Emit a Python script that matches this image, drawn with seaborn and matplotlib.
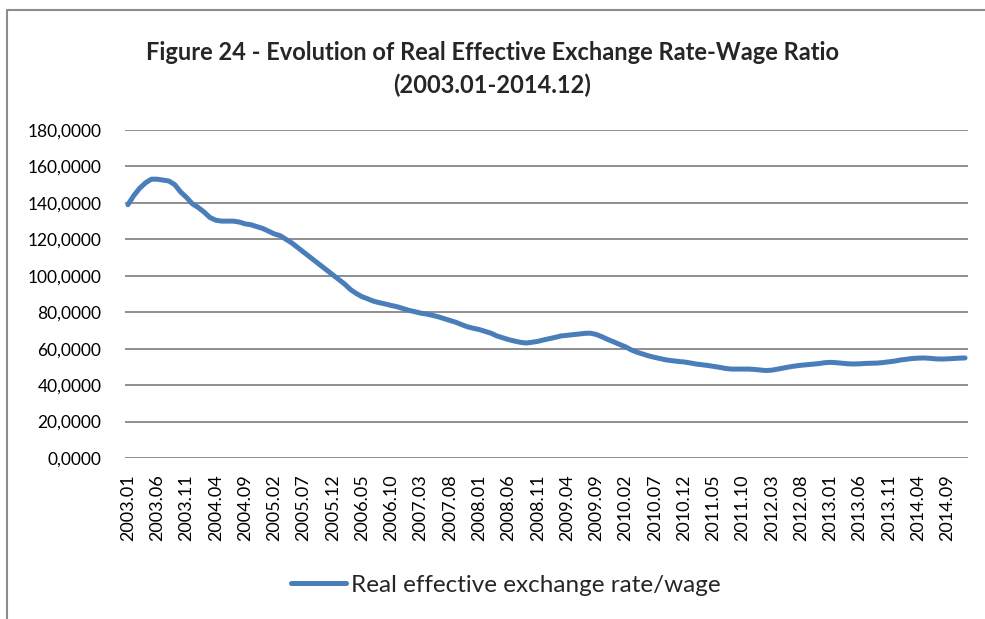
import numpy as np
import pandas as pd
import seaborn as sns
import matplotlib.pyplot as plt
from matplotlib.lines import Line2D
from matplotlib.ticker import FuncFormatter

# Monthly values, 2003.01 .. 2014.12
years = list(range(2003, 2015))
months = [f"{y}.{m:02d}" for y in years for m in range(1, 13)]

reer_wage = [
    139.0, 144.0, 148.0, 151.0, 153.0, 153.0, 152.5, 152.0, 150.0, 146.0, 143.0, 139.5,  # 2003
    137.5, 135.0, 132.0, 130.5, 130.0, 130.0, 130.0, 129.5, 128.5, 128.0, 127.0, 126.0,  # 2004
    124.5, 123.0, 122.0, 120.0, 118.0, 115.5, 113.0, 110.5, 108.0, 105.5, 103.0, 100.5,  # 2005
    98.0, 95.5, 92.5, 90.3, 88.5, 87.3, 86.0, 85.2, 84.5, 83.7, 83.0, 82.0,              # 2006
    81.0, 80.3, 79.5, 79.0, 78.3, 77.5, 76.5, 75.5, 74.5, 73.2, 72.0, 71.2,              # 2007
    70.5, 69.5, 68.5, 67.0, 66.0, 65.0, 64.2, 63.5, 63.1, 63.5, 64.0, 64.8,              # 2008
    65.5, 66.2, 67.0, 67.3, 67.7, 68.0, 68.4, 68.5, 67.8, 66.5, 65.0, 63.7,              # 2009
    62.3, 61.0, 59.3, 58.0, 57.0, 56.0, 55.2, 54.5, 53.8, 53.4, 53.0, 52.7,              # 2010
    52.2, 51.6, 51.2, 50.8, 50.3, 49.8, 49.2, 48.8, 48.8, 48.8, 48.8, 48.6,              # 2011
    48.3, 48.0, 48.2, 48.8, 49.4, 50.0, 50.5, 50.9, 51.2, 51.5, 51.8, 52.3,              # 2012
    52.5, 52.3, 52.0, 51.7, 51.6, 51.7, 51.9, 52.0, 52.1, 52.4, 52.8, 53.2,              # 2013
    53.8, 54.2, 54.6, 54.8, 54.9, 54.7, 54.4, 54.3, 54.4, 54.6, 54.8, 54.9,              # 2014
]

series_name = "Real effective exchange rate/wage"
title = "Figure 24 - Evolution of Real Effective Exchange Rate-Wage Ratio\n(2003.01-2014.12)"

df = pd.DataFrame({"idx": np.arange(len(months)), "month": months, series_name: reer_wage})

sns.set_theme(style="white")
plt.rcParams['font.family'] = ['Lato', 'DejaVu Sans']

fig = plt.figure(figsize=(9.85, 6.19), dpi=100)
ax = fig.add_axes([125 / 985, 1 - 458 / 619, (968 - 125) / 985, (458 - 130) / 619])

# outer chart frame (only top and left edges are inside the image)
frame_x, frame_y = 6.5 / 985, 1 - 10 / 619
fig.lines.append(Line2D([frame_x, 1.0], [frame_y, frame_y], transform=fig.transFigure,
                        color="#8c8c8c", linewidth=1.5))
fig.lines.append(Line2D([frame_x, frame_x], [0.0, frame_y], transform=fig.transFigure,
                        color="#8c8c8c", linewidth=1.5))

sns.lineplot(data=df, x="idx", y=series_name, ax=ax, color="#4a7ebb", linewidth=3.6,
             label=series_name, legend=False)

ax.set_xlim(-0.5, len(months) - 0.5)
ax.set_ylim(0, 180)
ax.set_yticks(np.arange(0, 181, 20))
ax.yaxis.set_major_formatter(FuncFormatter(lambda v, p: f"{v:.4f}".replace(".", ",")))
ax.set_xticks(df["idx"][::5])
ax.set_xticklabels(df["month"][::5], rotation=90)
ax.tick_params(axis="both", length=0, colors="black")
ax.tick_params(axis="y", labelsize=12.5, pad=17)
ax.tick_params(axis="x", labelsize=13, pad=12)
ax.grid(axis="y", color="#868686", linewidth=1.3)
ax.set_axisbelow(True)
for s in ax.spines.values():
    s.set_visible(False)
ax.set_xlabel("")
ax.set_ylabel("")

fig.text(0.5, 1 - 69 / 619, title, ha="center", va="center", fontsize=17, fontweight="bold",
         linespacing=1.45)

handles, labels = ax.get_legend_handles_labels()
fig.legend(handles, labels, loc="center", bbox_to_anchor=(506 / 985, 1 - 585 / 619), frameon=False,
           fontsize=17.5, handlelength=2.25, handletextpad=0.2)

fig.savefig("out.png", dpi=100)
